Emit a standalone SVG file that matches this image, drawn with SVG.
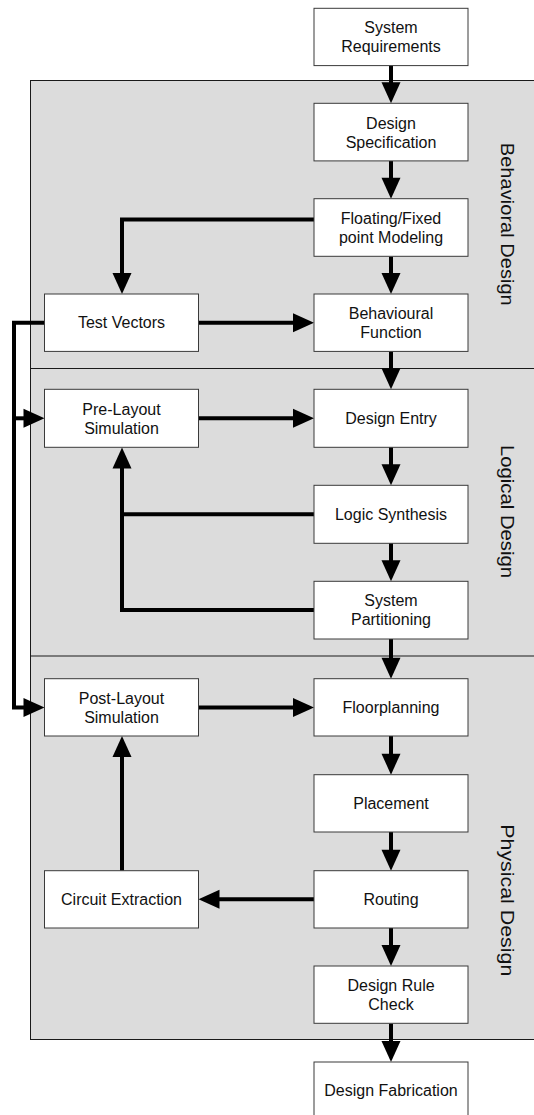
<svg xmlns="http://www.w3.org/2000/svg" width="534" height="1115" viewBox="0 0 534 1115">
  <style>
    .band { fill: #dcdcdc; stroke: #1a1a1a; stroke-width: 1; }
    .box { fill: #ffffff; stroke: #3a3a3a; stroke-width: 1; }
    .lbl { font-family: "Liberation Sans", Arial, sans-serif; font-size: 16px; fill: #111; text-anchor: middle; }
    .side { font-family: "Liberation Sans", Arial, sans-serif; font-size: 18px; fill: #111; text-anchor: middle; }
    .wire { fill: none; stroke: #000; stroke-width: 4; stroke-linejoin: miter; }
    .arr { marker-end: url(#head); }
  </style>
  <defs>
    <marker id="head" markerUnits="userSpaceOnUse" markerWidth="22" markerHeight="20" refX="9" refY="9.5" orient="auto" overflow="visible">
      <path d="M0,0 L21,9.5 L0,19 z" fill="#000"/>
    </marker>
  </defs>

  <!-- design phase bands -->
  <g id="bands">
    <rect class="band" x="30.5" y="80.5" width="520" height="959"/>
    <line x1="30.5" y1="368.5" x2="534" y2="368.5" stroke="#1a1a1a" stroke-width="1"/>
    <line x1="30.5" y1="656" x2="534" y2="656" stroke="#1a1a1a" stroke-width="1"/>
    <text class="side" transform="translate(501,224.3) rotate(90)" textLength="163" lengthAdjust="spacingAndGlyphs">Behavioral Design</text>
    <text class="side" transform="translate(501,511.5) rotate(90)" textLength="133" lengthAdjust="spacingAndGlyphs">Logical Design</text>
    <text class="side" transform="translate(501,900.3) rotate(90)" textLength="152" lengthAdjust="spacingAndGlyphs">Physical Design</text>
  </g>

  <!-- connectors -->
  <g id="connectors">
    <!-- main vertical flow -->
    <line class="wire arr" x1="391" y1="65.5" x2="391" y2="91.3"/>
    <line class="wire arr" x1="391" y1="161" x2="391" y2="186.7"/>
    <line class="wire arr" x1="391" y1="256.5" x2="391" y2="282"/>
    <line class="wire arr" x1="391" y1="351.5" x2="391" y2="377.3"/>
    <line class="wire arr" x1="391" y1="447" x2="391" y2="473.3"/>
    <line class="wire arr" x1="391" y1="543" x2="391" y2="569.3"/>
    <line class="wire arr" x1="391" y1="639" x2="391" y2="666.7"/>
    <line class="wire arr" x1="391" y1="736" x2="391" y2="762.7"/>
    <line class="wire arr" x1="391" y1="832" x2="391" y2="858.7"/>
    <line class="wire arr" x1="391" y1="928" x2="391" y2="954"/>
    <line class="wire arr" x1="391" y1="1023.5" x2="391" y2="1050"/>

    <!-- modeling to test vectors -->
    <polyline class="wire arr" points="314,219.5 122,219.5 122,282"/>
    <!-- test vectors to behavioural function -->
    <line class="wire arr" x1="198.5" y1="322.7" x2="302" y2="322.7"/>
    <!-- test vectors feed both simulations -->
    <polyline class="wire arr" points="44.5,322.7 14,322.7 14,707.4 32.5,707.4"/>
    <line class="wire arr" x1="14" y1="418.3" x2="32.5" y2="418.3"/>
    <!-- pre-layout simulation to design entry -->
    <line class="wire arr" x1="198.5" y1="418.3" x2="302" y2="418.3"/>
    <!-- synthesis / partitioning back to pre-layout simulation -->
    <line class="wire" x1="314" y1="514.3" x2="122" y2="514.3"/>
    <polyline class="wire arr" points="314,610 122,610 122,459.5"/>
    <!-- post-layout simulation to floorplanning -->
    <line class="wire arr" x1="198.5" y1="707.4" x2="302" y2="707.4"/>
    <!-- routing to circuit extraction -->
    <line class="wire arr" x1="314" y1="899.3" x2="210.5" y2="899.3"/>
    <!-- circuit extraction to post-layout simulation -->
    <line class="wire arr" x1="122" y1="870.7" x2="122" y2="748"/>
  </g>

  <!-- nodes -->
  <g id="system-requirements">
    <rect class="box" x="314" y="8.3" width="154" height="57.3"/>
    <text class="lbl" x="391" y="33.3">System</text>
    <text class="lbl" x="391" y="52.3">Requirements</text>
  </g>
  <g id="design-specification">
    <rect class="box" x="314" y="103.3" width="154" height="57.6"/>
    <text class="lbl" x="391" y="128.5">Design</text>
    <text class="lbl" x="391" y="147.5">Specification</text>
  </g>
  <g id="floating-fixed-modeling">
    <rect class="box" x="314" y="198.7" width="154" height="57.6"/>
    <text class="lbl" x="391" y="223.8">Floating/Fixed</text>
    <text class="lbl" x="391" y="242.8">point Modeling</text>
  </g>
  <g id="test-vectors">
    <rect class="box" x="44.5" y="294" width="154" height="57.4"/>
    <text class="lbl" x="121.5" y="328.4">Test Vectors</text>
  </g>
  <g id="behavioural-function">
    <rect class="box" x="314" y="294" width="154" height="57.4"/>
    <text class="lbl" x="391" y="319.2">Behavioural</text>
    <text class="lbl" x="391" y="338.2">Function</text>
  </g>
  <g id="pre-layout-simulation">
    <rect class="box" x="44.5" y="389.3" width="154" height="58"/>
    <text class="lbl" x="121.5" y="414.5">Pre-Layout</text>
    <text class="lbl" x="121.5" y="433.5">Simulation</text>
  </g>
  <g id="design-entry">
    <rect class="box" x="314" y="389.3" width="154" height="58"/>
    <text class="lbl" x="391" y="424">Design Entry</text>
  </g>
  <g id="logic-synthesis">
    <rect class="box" x="314" y="485.3" width="154" height="58"/>
    <text class="lbl" x="391" y="520">Logic Synthesis</text>
  </g>
  <g id="system-partitioning">
    <rect class="box" x="314" y="581.3" width="154" height="57.7"/>
    <text class="lbl" x="391" y="606.3">System</text>
    <text class="lbl" x="391" y="625.3">Partitioning</text>
  </g>
  <g id="post-layout-simulation">
    <rect class="box" x="44.5" y="678.7" width="154" height="57.3"/>
    <text class="lbl" x="121.5" y="703.6">Post-Layout</text>
    <text class="lbl" x="121.5" y="722.6">Simulation</text>
  </g>
  <g id="floorplanning">
    <rect class="box" x="314" y="678.7" width="154" height="57.3"/>
    <text class="lbl" x="391" y="713.1">Floorplanning</text>
  </g>
  <g id="placement">
    <rect class="box" x="314" y="774.7" width="154" height="57.3"/>
    <text class="lbl" x="391" y="809.1">Placement</text>
  </g>
  <g id="circuit-extraction">
    <rect class="box" x="44.5" y="870.7" width="154" height="57.3"/>
    <text class="lbl" x="121.5" y="905.1">Circuit Extraction</text>
  </g>
  <g id="routing">
    <rect class="box" x="314" y="870.7" width="154" height="57.3"/>
    <text class="lbl" x="391" y="905.1">Routing</text>
  </g>
  <g id="design-rule-check">
    <rect class="box" x="314" y="966" width="154" height="57.3"/>
    <text class="lbl" x="391" y="991">Design Rule</text>
    <text class="lbl" x="391" y="1010">Check</text>
  </g>
  <g id="design-fabrication">
    <rect class="box" x="314" y="1062" width="154" height="57.5"/>
    <text class="lbl" x="391" y="1096.3">Design Fabrication</text>
  </g>
</svg>
